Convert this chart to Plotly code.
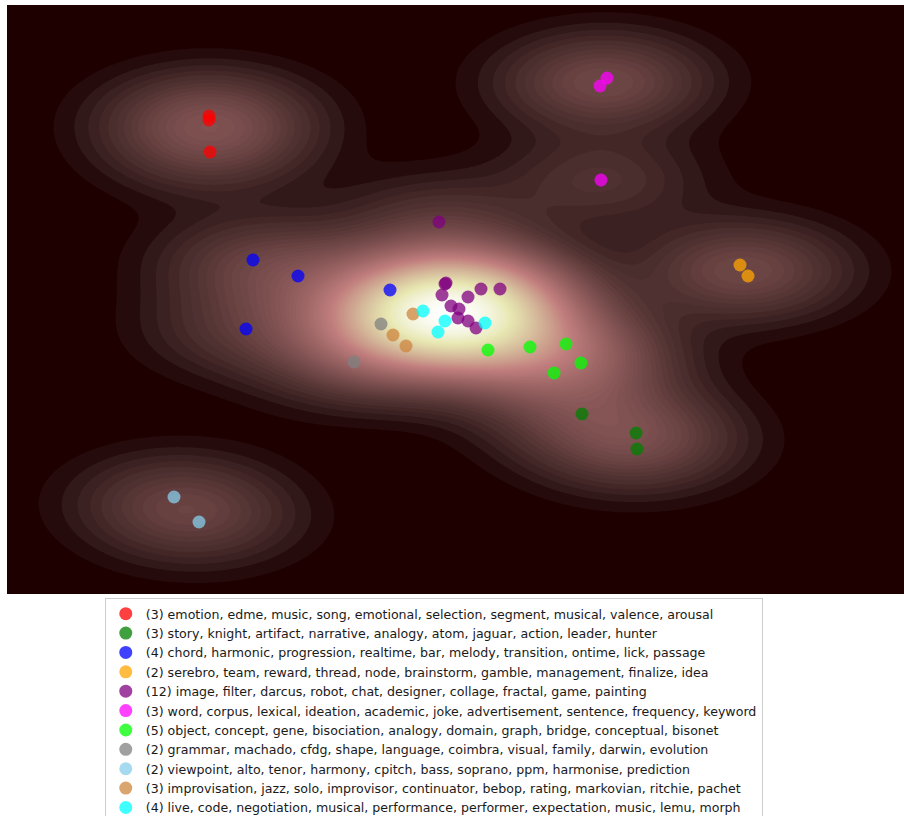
import numpy as np
import plotly.graph_objects as go

# Cluster labels (topic keywords) and 2-D embedding coordinates of each document
labels = [
    "(3) emotion, edme, music, song, emotional, selection, segment, musical, valence, arousal",
    "(3) story, knight, artifact, narrative, analogy, atom, jaguar, action, leader, hunter",
    "(4) chord, harmonic, progression, realtime, bar, melody, transition, ontime, lick, passage",
    "(2) serebro, team, reward, thread, node, brainstorm, gamble, management, finalize, idea",
    "(12) image, filter, darcus, robot, chat, designer, collage, fractal, game, painting",
    "(3) word, corpus, lexical, ideation, academic, joke, advertisement, sentence, frequency, keyword",
    "(5) object, concept, gene, bisociation, analogy, domain, graph, bridge, conceptual, bisonet",
    "(2) grammar, machado, cfdg, shape, language, coimbra, visual, family, darwin, evolution",
    "(2) viewpoint, alto, tenor, harmony, cpitch, bass, soprano, ppm, harmonise, prediction",
    "(3) improvisation, jazz, solo, improvisor, continuator, bebop, rating, markovian, ritchie, pachet",
    "(4) live, code, negotiation, musical, performance, performer, expectation, music, lemu, morph",
]

colors = ["red", "green", "blue", "orange", "purple", "magenta",
          "lime", "gray", "skyblue", "peru", "cyan"]

x_emotion = [-24.6, -24.6, -24.5]
y_emotion = [19.4, 19.0, 15.8]
x_story = [12.7, 18.1, 18.2]
y_story = [-10.4, -12.3, -13.9]
x_chord = [-20.2, -15.7, -6.5, -20.9]
y_chord = [5.0, 3.4, 2.0, -1.9]
x_serebro = [28.5, 29.3]
y_serebro = [4.5, 3.4]
x_image = [-1.6, -0.9, -1.0, -1.3, 1.3, 2.6, 4.5, -0.4, 0.4, 0.3, 1.3, 2.1]
y_image = [8.8, 2.7, 2.6, 1.5, 1.3, 2.1, 2.1, 0.4, 0.1, -0.8, -1.1, -1.8]
x_word = [15.2, 14.5, 14.6]
y_word = [23.2, 22.4, 13.0]
x_object = [3.3, 7.5, 11.1, 12.6, 9.9]
y_object = [-4.0, -3.7, -3.4, -5.3, -6.3]
x_grammar = [-7.4, -10.1]
y_grammar = [-1.4, -5.2]
x_viewpoint = [-28.1, -25.6]
y_viewpoint = [-18.7, -21.2]
x_improv = [-4.2, -6.2, -4.9]
y_improv = [-0.4, -2.5, -3.6]
x_live = [-3.2, -1.0, -1.7, 3.0]
y_live = [-0.1, -1.1, -2.2, -1.3]

xs = [x_emotion, x_story, x_chord, x_serebro, x_image, x_word,
      x_object, x_grammar, x_viewpoint, x_improv, x_live]
ys = [y_emotion, y_story, y_chord, y_serebro, y_image, y_word,
      y_object, y_grammar, y_viewpoint, y_improv, y_live]

# Plot extent
x_range = [-44.8, 44.9]
y_range = [-28.4, 30.5]

# Gaussian kernel density of all documents (per-axis bandwidth)
bw_x, bw_y = 6.6, 3.1
all_x = np.concatenate([np.asarray(v) for v in xs])
all_y = np.concatenate([np.asarray(v) for v in ys])
gx = np.linspace(x_range[0], x_range[1], 360)
gy = np.linspace(y_range[0], y_range[1], 240)
GX, GY = np.meshgrid(gx, gy)
dens = np.zeros_like(GX)
for px, py in zip(all_x, all_y):
    dens += np.exp(-0.5 * ((GX - px) / bw_x) ** 2 - 0.5 * ((GY - py) / bw_y) ** 2)
dens /= dens.max()


# matplotlib-style "pink" colormap: sqrt((2*gray + hot) / 3)
def pink(v):
    r_hot = np.clip(0.0416 + v * (1 - 0.0416) / 0.365079, 0, 1)
    g_hot = np.clip((v - 0.365079) / (0.746032 - 0.365079), 0, 1)
    b_hot = np.clip((v - 0.746032) / (1 - 0.746032), 0, 1)
    r = np.sqrt((2 * v + r_hot) / 3)
    g = np.sqrt((2 * v + g_hot) / 3)
    b = np.sqrt((2 * v + b_hot) / 3)
    return "rgb(%d,%d,%d)" % (round(r * 255), round(g * 255), round(b * 255))


stops = np.linspace(0, 1, 101)
pink_scale = [[float(s), pink(s)] for s in stops]

fig = go.Figure()
fig.add_trace(go.Contour(
    x=gx, y=gy, z=dens,
    colorscale=pink_scale, zmin=0, zmax=1,
    contours=dict(start=0.01, end=1.0, size=0.01, coloring="fill"),
    line=dict(width=0),
    showscale=False, hoverinfo="skip", showlegend=False,
))

for name, col, vx, vy in zip(labels, colors, xs, ys):
    fig.add_trace(go.Scatter(
        x=vx, y=vy, mode="markers", name=name,
        marker=dict(color=col, size=13, opacity=0.75, line=dict(width=0)),
    ))

fig.update_xaxes(range=x_range, visible=False)
fig.update_yaxes(range=y_range, visible=False)

fig.update_layout(
    width=904, height=816,
    margin=dict(l=7, r=0, t=5, b=222, autoexpand=False),
    paper_bgcolor="white", plot_bgcolor="#1e0000",
    font=dict(family="DejaVu Sans", size=12.6, color="#1a1a1a"),
    legend=dict(
        x=0.109, xanchor="left", y=-0.0068, yanchor="top",
        bordercolor="#cccccc", borderwidth=1, bgcolor="white",
        font=dict(size=12.6), maxheight=400,
    ),
)

fig.write_html("out.html")
